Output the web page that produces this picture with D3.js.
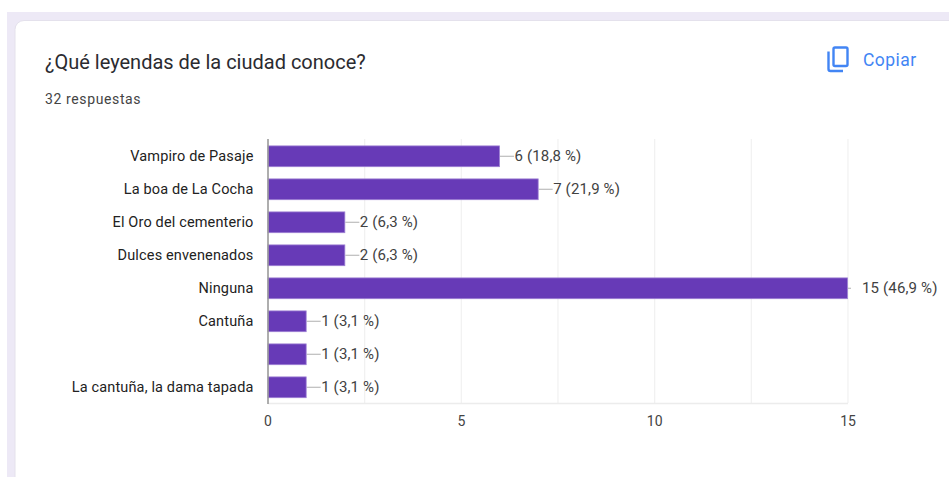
<!DOCTYPE html>
<html><head><meta charset="utf-8">
<script src="https://cdnjs.cloudflare.com/ajax/libs/d3/7.8.5/d3.min.js"></script>
<style>html,body{margin:0;padding:0;background:#fff;overflow:hidden}svg{display:block}text{font-family:Roboto,sans-serif}</style>
</head><body><svg id="c" width="949" height="477"></svg>
<script>
const categories=["Vampiro de Pasaje","La boa de La Cocha","El Oro del cementerio","Dulces envenenados","Ninguna","Cantuña","","La cantuña, la dama tapada"];
const counts=[6,7,2,2,15,1,1,1];
const percents=["18,8","21,9","6,3","6,3","46,9","3,1","3,1","3,1"];
const gridTicks=[2.5,5,7.5,10,12.5,15];
const axisLabels=[0,5,10,15];
const title="¿Qué leyendas de la ciudad conoce?";
const subtitle="32 respuestas";
const copyLabel="Copiar";

const svg=d3.select("#c");
svg.append("rect").attr("x",7).attr("y",12).attr("width",942).attr("height",465).attr("fill","#ede9f6");
svg.append("rect").attr("x",15).attr("y",20.5).attr("width",950).attr("height",480).attr("rx",9).attr("fill","#fff").attr("stroke","#e4e1ec").attr("stroke-width",1);
svg.append("text").attr("x",45).attr("y",69).attr("font-size",20).attr("fill","#2b2b30").text(title);
svg.append("text").attr("x",45).attr("y",104).attr("font-size",14).attr("letter-spacing",0.62).attr("fill","#444").text(subtitle);

const ic=svg.append("g").attr("fill","none").attr("stroke","#4285f4").attr("stroke-width",2.4);
ic.append("rect").attr("x",833.5).attr("y",47.5).attr("width",14).attr("height",18.5).attr("rx",1.5);
ic.append("path").attr("d","M828.5 51.5V69a2 2 0 0 0 2 2H843");
svg.append("text").attr("x",863).attr("y",66).attr("font-size",17.5).attr("font-weight",400).attr("letter-spacing",0.45).attr("fill","#4285f4").text(copyLabel);

const x=d3.scaleLinear().domain([0,15]).range([268,848]);
const y=d3.scaleBand().domain(categories).range([139.8,403.8]).paddingInner(0.37).paddingOuter(0.185);

svg.append("g").selectAll("line").data(gridTicks).join("line")
 .attr("x1",d=>x(d)).attr("x2",d=>x(d)).attr("y1",139).attr("y2",403)
 .attr("stroke","#f1f1f1").attr("stroke-width",1.2);
svg.append("line").attr("x1",268).attr("x2",848).attr("y1",403.5).attr("y2",403.5).attr("stroke","#ececec").attr("stroke-width",1.5);

const rows=categories.map((c,i)=>({c,v:counts[i],p:percents[i]}));
svg.append("g").selectAll("line").data(rows).join("line")
 .attr("x1",d=>x(d.v)).attr("x2",d=>x(d.v)+(d.v===15?3:14))
 .attr("y1",d=>y(d.c)+y.bandwidth()/2).attr("y2",d=>y(d.c)+y.bandwidth()/2)
 .attr("stroke","#bdbdbd").attr("stroke-width",1.2);
svg.append("g").selectAll("rect").data(rows).join("rect")
 .attr("x",x(0)).attr("y",d=>y(d.c)).attr("width",d=>x(d.v)-x(0)-0.5).attr("height",y.bandwidth())
 .attr("fill","#673ab7").attr("stroke","#9c7fd3").attr("stroke-width",0.8);
svg.append("line").attr("x1",268).attr("x2",268).attr("y1",139).attr("y2",404).attr("stroke","#9a9a9a").attr("stroke-width",1.6);

svg.append("g").selectAll("text").data(rows).join("text")
 .attr("x",253.5).attr("y",d=>y(d.c)+y.bandwidth()/2+5).attr("text-anchor","end")
 .attr("font-size",14.5).attr("letter-spacing",0.15).attr("fill","#222").text(d=>d.c);
svg.append("g").selectAll("text").data(rows).join("text")
 .attr("x",d=>x(d.v)+(d.v===15?14:14.5)).attr("y",d=>y(d.c)+y.bandwidth()/2+5)
 .attr("font-size",15).attr("letter-spacing",0.15).attr("fill","#424242").text(d=>`${d.v} (${d.p} %)`);
svg.append("g").selectAll("text").data(axisLabels).join("text")
 .attr("x",d=>x(d)).attr("y",426).attr("text-anchor","middle")
 .attr("font-size",14).attr("fill","#444").text(d=>d);
</script></body></html>
